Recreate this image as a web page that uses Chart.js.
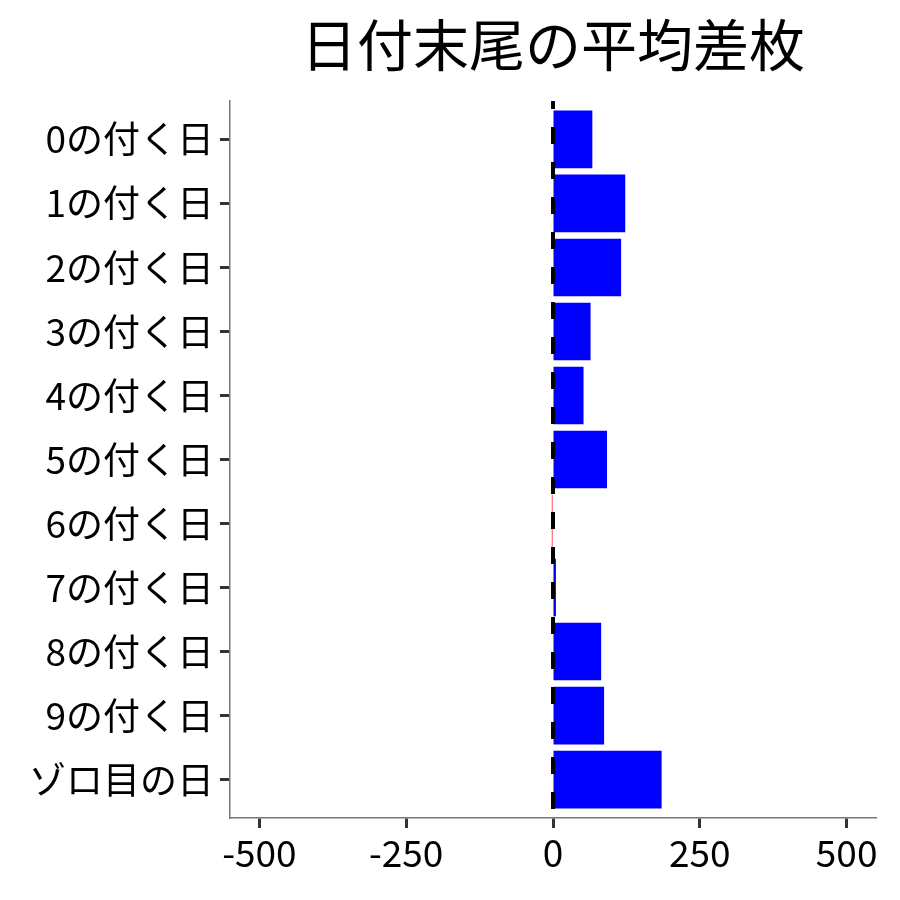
<!DOCTYPE html>
<html>
<head>
<meta charset="utf-8">
<script src="https://cdn.jsdelivr.net/npm/chart.js@4"></script>
<style>
  html, body { margin: 0; padding: 0; background: #fff; }
  #wrap { width: 900px; height: 900px; }
</style>
</head>
<body>
<div id="wrap"><canvas id="chart" width="900" height="900"></canvas></div>
<script>
const titleText = "日付末尾の平均差枚";
const categories = ["0の付く日", "1の付く日", "2の付く日", "3の付く日", "4の付く日",
  "5の付く日", "6の付く日", "7の付く日", "8の付く日", "9の付く日", "ゾロ目の日"];
const avgDiff = [67, 123, 116, 64, 52, 92, -2, 5, 82, 87, 185];
const xTickValues = [-500, -250, 0, 250, 500];

const FONT = "'Noto Sans CJK JP', 'Noto Sans', sans-serif";

// title centered on the plot panel, like ggplot
const titlePlugin = {
  id: "panelTitle",
  afterDraw(chart) {
    const ctx = chart.ctx;
    const area = chart.chartArea;
    ctx.save();
    ctx.font = "56px " + FONT;
    ctx.fillStyle = "#000";
    ctx.textAlign = "center";
    ctx.textBaseline = "middle";
    ctx.fillText(titleText, (area.left + area.right) / 2, 45);
    ctx.restore();
  }
};

// dashed reference line at zero
const zeroLine = {
  id: "zeroLine",
  afterDatasetsDraw(chart) {
    const ctx = chart.ctx;
    const area = chart.chartArea;
    const x = chart.scales.x.getPixelForValue(0);
    ctx.save();
    ctx.beginPath();
    ctx.rect(area.left, area.top, area.right - area.left, area.bottom - area.top);
    ctx.clip();
    ctx.strokeStyle = "#000";
    ctx.lineWidth = 4;
    ctx.setLineDash([17, 18]);
    ctx.lineDashOffset = 9;
    ctx.beginPath();
    ctx.moveTo(x, area.top);
    ctx.lineTo(x, area.bottom);
    ctx.stroke();
    ctx.restore();
  }
};

new Chart(document.getElementById("chart"), {
  type: "bar",
  data: {
    datasets: [
      {
        data: avgDiff.map((v, i) => ({ x: v, y: i })),
        backgroundColor: avgDiff.map((v) => (v < 0 ? "#FF0000" : "#0000FF")),
        borderWidth: 0,
        categoryPercentage: 0.9,
        barPercentage: 1.0,
      },
    ],
  },
  options: {
    indexAxis: "y",
    responsive: false,
    animation: false,
    layout: { padding: { top: 101, right: 24, left: 0, bottom: 0 } },
    plugins: {
      legend: { display: false },
      title: { display: false },
      tooltip: { enabled: false },
    },
    scales: {
      x: {
        type: "linear",
        min: -550,
        max: 550,
        afterBuildTicks: (scale) => {
          scale.ticks = xTickValues.map((v) => ({ value: v }));
        },
        afterFit: (scale) => { scale.height = 82; },
        grid: {
          drawOnChartArea: false,
          drawTicks: true,
          tickLength: 10,
          tickColor: "#333",
          tickWidth: 3,
        },
        border: { color: "#777", width: 1.5 },
        ticks: {
          color: "#000",
          padding: 3,
          maxRotation: 0,
          font: { family: FONT, size: 37 },
        },
      },
      y: {
        type: "linear",
        offset: false,
        min: -0.6,
        max: 10.6,
        reverse: true,
        afterBuildTicks: (scale) => {
          scale.ticks = categories.map((c, i) => ({ value: i }));
        },
        afterFit: (scale) => { scale.width = 230; },
        grid: {
          offset: false,
          drawOnChartArea: false,
          drawTicks: true,
          tickLength: 10,
          tickColor: "#333",
          tickWidth: 3,
        },
        border: { color: "#777", width: 1.5 },
        ticks: {
          color: "#000",
          padding: 6,
          autoSkip: false,
          font: { family: FONT, size: 37 },
          callback: (value) => categories[value],
        },
      },
    },
  },
  plugins: [titlePlugin, zeroLine],
});
</script>
</body>
</html>
